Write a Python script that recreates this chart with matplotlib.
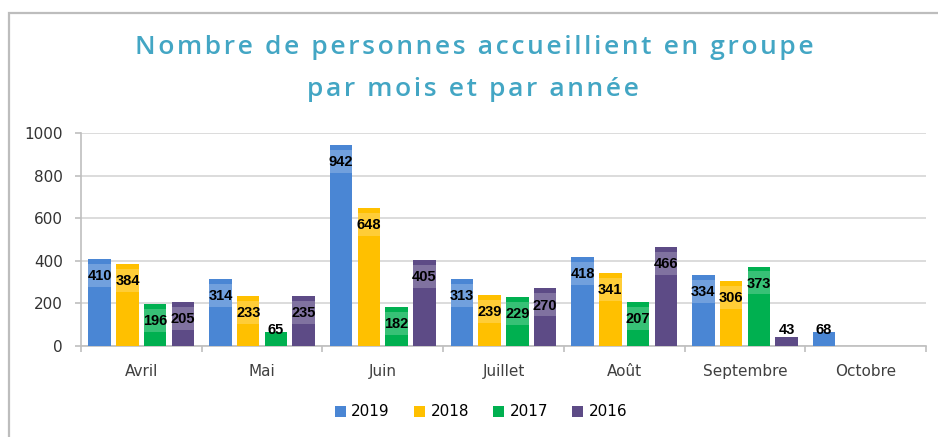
import matplotlib
matplotlib.use('Agg')
import matplotlib.pyplot as plt
import numpy as np
from matplotlib.patches import Rectangle

# ----------------------------
# Data
# ----------------------------
months = ['Avril', 'Mai', 'Juin', 'Juillet', 'Août', 'Septembre', 'Octobre']
years = ['2019', '2018', '2017', '2016']
v2019 = [410, 314, 942, 313, 418, 334, 68]
v2018 = [384, 233, 648, 239, 341, 306, np.nan]
v2017 = [196, 65, 182, 229, 207, 373, np.nan]
v2016 = [205, 235, 405, 270, 466, 43, np.nan]
series = [v2019, v2018, v2017, v2016]
colors = ['#4A86D4', '#FFC000', '#00B050', '#5D4B86']

x = np.arange(len(months))
step = 0.23
bar_w = 0.186

fig = plt.figure(figsize=(9.38, 4.37), dpi=100)
ax = fig.add_axes([81/938, 1 - 346/437, (926 - 81)/938, (346 - 133)/437])

# outer frame (left + top visible only)
fig.patches.append(Rectangle((9/938, -0.1), 1.2, 1.1 - 13/437,
                             transform=fig.transFigure, fill=False,
                             edgecolor='#BDBDBD', lw=1.6, zorder=0))

handles = []
for i, (vals, c) in enumerate(zip(series, colors)):
    pos = x + (i - 1.5) * step
    vals = np.array(vals, dtype=float)
    ok = ~np.isnan(vals)
    b = ax.bar(pos[ok], vals[ok], width=bar_w, color=c, zorder=3)
    handles.append(b)
    for p, v in zip(pos[ok], vals[ok]):
        if v >= 100:
            # lighter band behind the label
            ax.add_patch(Rectangle((p - bar_w/2, v - 131), bar_w, 108,
                                   facecolor='white', alpha=0.22,
                                   edgecolor='none', zorder=4))
        ax.text(p, max(v - 80, 75), f'{int(v)}', ha='center', va='center',
                fontsize=10.5, fontweight='bold', family='Liberation Sans',
                color='black', zorder=5)

ax.set_xlim(-0.5, len(months) - 0.5)
ax.set_ylim(0, 1000)
ax.set_yticks(np.arange(0, 1001, 200))
ax.yaxis.grid(True, color='#D9D9D9', lw=1.3, zorder=0)
ax.set_axisbelow(True)

ax.set_xticks(x)
ax.set_xticklabels(months)
ax.set_xticks(np.arange(-0.5, len(months), 1), minor=True)
ax.tick_params(axis='x', which='major', length=0, pad=13, labelsize=11,
               labelcolor='#404040')
ax.tick_params(axis='x', which='minor', length=4, color='#BFBFBF', width=1.2)
ax.tick_params(axis='y', length=4, color='#BFBFBF', width=1.2, pad=9,
               labelsize=11, labelcolor='#333333')

for s in ['top', 'right']:
    ax.spines[s].set_visible(False)
ax.spines['left'].set_color('#BFBFBF')
ax.spines['bottom'].set_color('#BFBFBF')
ax.spines['left'].set_linewidth(1.2)
ax.spines['bottom'].set_linewidth(1.2)

# title (two lines, letter-spaced with hair spaces)
def spaced(s):
    return '\u200a'.join(s)

title_col = '#43A6C4'
fig.text(0.506, 1 - 48/437, spaced('Nombre de personnes accueillient en groupe'),
         ha='center', va='center', fontsize=19, color=title_col,
         family=['Open Sans', 'DejaVu Sans'], fontweight='semibold')
fig.text(0.504, 1 - 89/437, spaced('par mois et par année'),
         ha='center', va='center', fontsize=19, color=title_col,
         family=['Open Sans', 'DejaVu Sans'], fontweight='semibold')

fig.legend(handles, years, loc='center', bbox_to_anchor=(0.513, 1 - 412/437),
           ncol=4, frameon=False, fontsize=11, handlelength=0.7,
           handleheight=0.7, handletextpad=0.35, columnspacing=1.6)

fig.savefig('out.png', dpi=100)
